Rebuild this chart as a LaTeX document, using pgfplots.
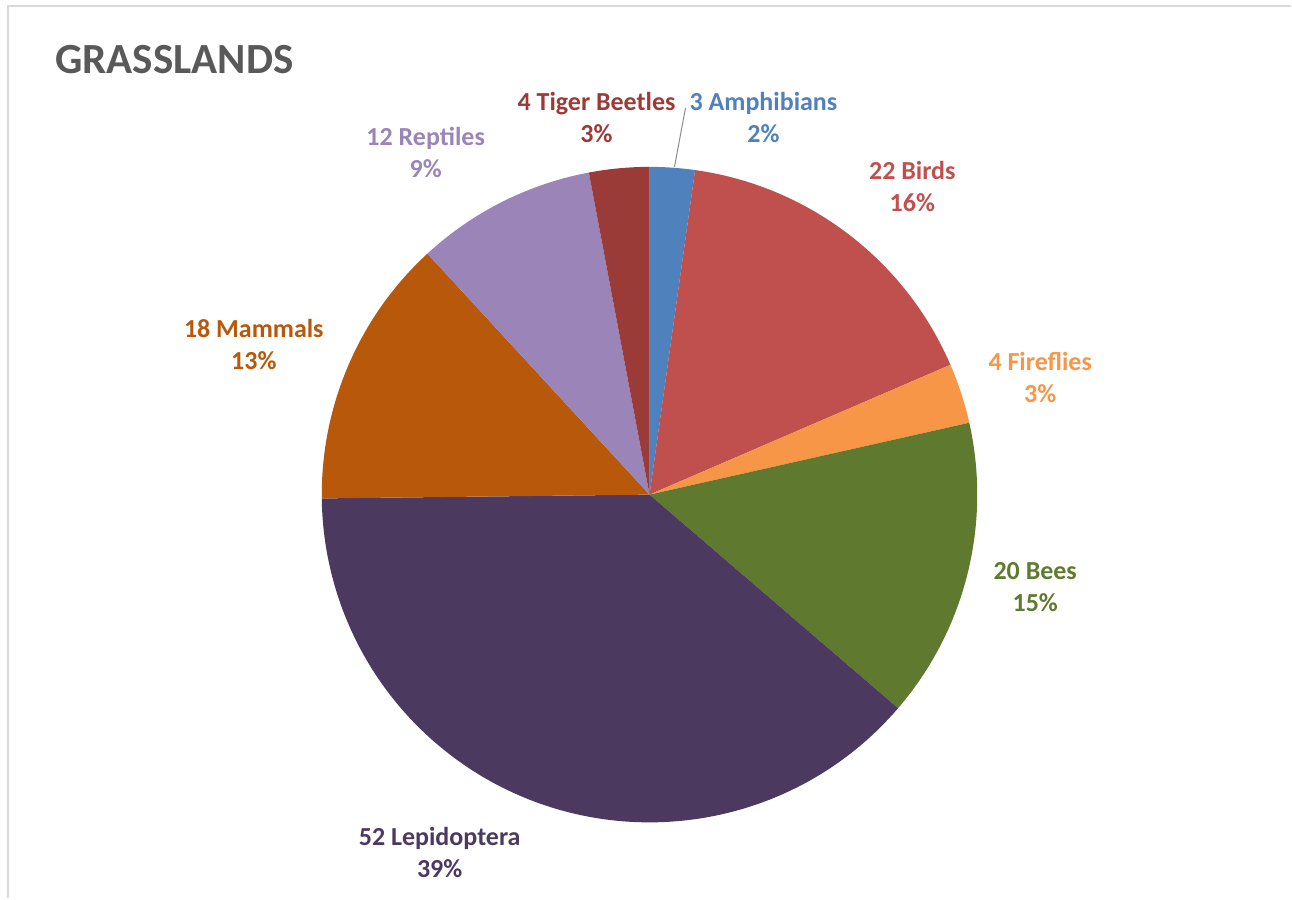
\documentclass[border=0pt]{standalone}
\usepackage{pgfplots}
\pgfplotsset{compat=1.18}
\usepackage{fontspec}
\setmainfont{Carlito}
\definecolor{cAmph}{HTML}{4F81BD}
\definecolor{cBirds}{HTML}{C0504D}
\definecolor{cFire}{HTML}{F79646}
\definecolor{cBees}{HTML}{5F7A2F}
\definecolor{cLepi}{HTML}{4B3960}
\definecolor{cMamm}{HTML}{B8580A}
\definecolor{cRept}{HTML}{9A84B8}
\definecolor{cTiger}{HTML}{9B3B38}
\definecolor{cTitle}{HTML}{595959}
\begin{document}
\begin{tikzpicture}
\begin{axis}[
  x=0.5pt, y=0.5pt,
  xmin=0, xmax=1292, ymin=0, ymax=899,
  hide axis, clip=false,
  anchor=origin, at={(0,0)},
]
\path (axis cs:0,0) rectangle (axis cs:1292,899);
% frame
\draw[color=black!15, line width=1pt] (axis cs:8,0) -- (axis cs:8,893) -- (axis cs:1292,893);
% pie slices: value/color, clockwise from 12 o'clock, total 135
\def\total{135}
\foreach \v/\c [remember=\e as \s (initially 90)] in {3/cAmph,22/cBirds,4/cFire,20/cBees,52/cLepi,18/cMamm,12/cRept,4/cTiger} {
  \pgfmathsetmacro\e{\s-\v*(360/\total)}
  \edef\temp{\noexpand\fill[\c] (axis cs:650,404) -- ++(\s:164pt) arc[start angle=\s, end angle=\e, radius=164pt] -- cycle;}
  \temp
}
% leader line
\draw[color=black!45, line width=0.5pt] (axis cs:675,732) -- (axis cs:686,791);
% title
\node[anchor=west, inner sep=0pt, text=cTitle, font=\fontsize{21.5pt}{26pt}\selectfont\bfseries] at (axis cs:55,839) {GRASSLANDS};
% labels
\tikzset{lab/.style={align=center, inner sep=0pt, font=\fontsize{13pt}{16pt}\selectfont\bfseries}}
\node[lab, text=cAmph] at (axis cs:764,781) {3 Amphibians\\2\%};
\node[lab, text=cTiger] at (axis cs:597,781) {4 Tiger Beetles\\3\%};
\node[lab, text=cRept] at (axis cs:426,746) {12 Reptiles\\9\%};
\node[lab, text=cBirds] at (axis cs:913,712) {22 Birds\\16\%};
\node[lab, text=cFire] at (axis cs:1041,521) {4 Fireflies\\3\%};
\node[lab, text=cBees] at (axis cs:1036,311) {20 Bees\\15\%};
\node[lab, text=cLepi] at (axis cs:440,46) {52 Lepidoptera\\39\%};
\node[lab, text=cMamm] at (axis cs:254,554) {18 Mammals\\13\%};
\end{axis}
\end{tikzpicture}
\end{document}
